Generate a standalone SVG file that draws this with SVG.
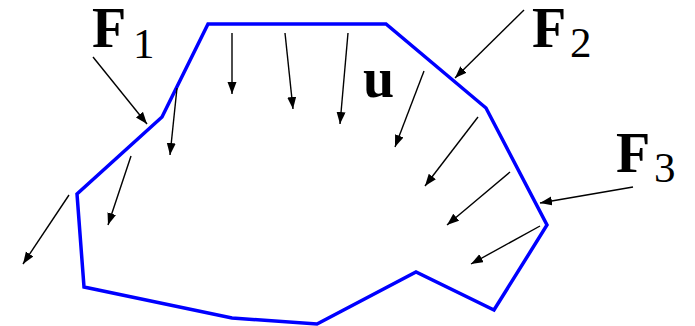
<svg xmlns="http://www.w3.org/2000/svg" width="695" height="326" viewBox="0 0 695 326">
<style>
.body{fill:none;stroke:#0000ff;stroke-width:3.5;stroke-linejoin:miter}
.arr{fill:none;stroke:#000;stroke-width:1.4;marker-end:url(#ah)}
.F{font-family:"Liberation Serif",serif;font-weight:bold;font-size:56px;fill:#000}
.sub{font-family:"Liberation Serif",serif;font-size:43px;fill:#000}
</style>
<defs>
<marker id="ah" markerUnits="userSpaceOnUse" markerWidth="13" markerHeight="10" refX="12" refY="4.5" orient="auto" viewBox="0 0 13 10">
<path d="M0,0 L12,4.5 L0,9 z" fill="#000"/>
</marker>
</defs>
<g id="body">
<polygon class="body" points="208,24 386,24 486,108 547,225 494,310 416,272 317,324 232,318 84,287 77,194 162,117"/>
</g>
<g id="connectors">
<line class="arr" x1="93" y1="57" x2="147" y2="124"/>
<line class="arr" x1="524" y1="10" x2="455" y2="78"/>
<line class="arr" x1="633" y1="187" x2="540" y2="203"/>
<line class="arr" x1="232" y1="33" x2="232" y2="94"/>
<line class="arr" x1="285" y1="33" x2="293" y2="109"/>
<line class="arr" x1="348" y1="33" x2="340" y2="124"/>
<line class="arr" x1="424" y1="71" x2="395" y2="147"/>
<line class="arr" x1="478" y1="117" x2="425" y2="186"/>
<line class="arr" x1="510" y1="172" x2="447" y2="225"/>
<line class="arr" x1="540" y1="226" x2="471" y2="264"/>
<line class="arr" x1="131" y1="156" x2="108" y2="225"/>
<line class="arr" x1="69" y1="195" x2="23" y2="264"/>
<line class="arr" x1="177" y1="88" x2="170" y2="155"/>
</g>
<g id="label-F1"><text class="F" x="92" y="47">F</text><text class="sub" x="133" y="58">1</text></g>
<g id="label-F2"><text class="F" x="532" y="47">F</text><text class="sub" x="570" y="57">2</text></g>
<g id="label-F3"><text class="F" x="616" y="172">F</text><text class="sub" x="654" y="182">3</text></g>
<g id="label-u"><text class="F" x="363" y="97">u</text></g>
</svg>
